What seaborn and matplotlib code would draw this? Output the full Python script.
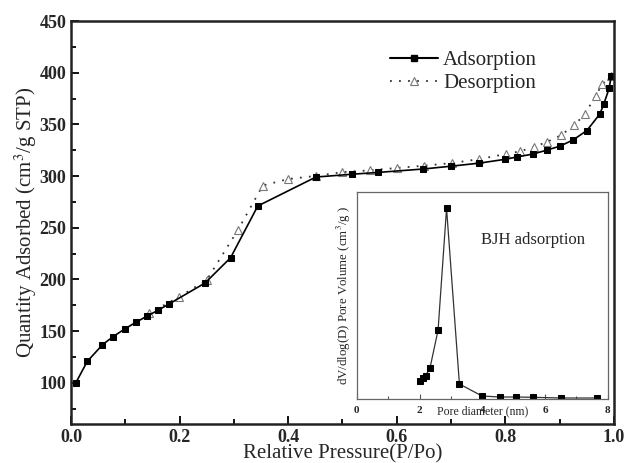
import matplotlib
matplotlib.use("Agg")
import matplotlib.pyplot as plt
import seaborn as sns
import pandas as pd
from matplotlib.ticker import MultipleLocator
from matplotlib.lines import Line2D

# ---- data ----
ads_x = [0.009, 0.030, 0.058, 0.077, 0.099, 0.120, 0.140, 0.160, 0.180, 0.247,
         0.294, 0.344, 0.451, 0.517, 0.566, 0.649, 0.700, 0.751, 0.800, 0.821,
         0.851, 0.876, 0.901, 0.925, 0.950, 0.974, 0.981, 0.991, 0.995]
ads_y = [100, 120.6, 136.7, 144.4, 152, 158.6, 164.4, 170, 176, 196.5,
         221, 271, 299, 301.7, 303.5, 306.8, 309.5, 312.4, 316.2, 318.4,
         321.3, 325, 329, 335, 344, 360, 369.3, 384.7, 397]

des_x = [0.995, 0.978, 0.966, 0.946, 0.927, 0.903, 0.877, 0.852, 0.827, 0.801,
         0.752, 0.702, 0.651, 0.600, 0.551, 0.500, 0.451, 0.399, 0.353, 0.307,
         0.250, 0.198, 0.144]
des_y = [397, 388.6, 377.3, 359.6, 349.3, 339.7, 333, 328, 323.9, 321.3,
         316.4, 312.6, 310, 307.8, 305.5, 303.8, 300.1, 297, 290.7, 247.4,
         199.4, 182.7, 167.2]

bjh_d = [2.01, 2.10, 2.19, 2.33, 2.59, 2.86, 3.27, 3.99, 4.56, 5.06, 5.62, 6.50, 7.66]
bjh_v = [0.183, 0.207, 0.233, 0.307, 0.69, 1.907, 0.15, 0.03, 0.02, 0.02, 0.017, 0.01, 0.01]

main_xticks = [0.0, 0.2, 0.4, 0.6, 0.8, 1.0]
main_yticks = [100, 150, 200, 250, 300, 350, 400, 450]
inset_xticks = [0, 2, 4, 6, 8]

sns.set_theme(style="ticks")
plt.rcParams['font.family'] = ['Liberation Serif', 'DejaVu Serif']
plt.rcParams['mathtext.fontset'] = 'stix'

fig = plt.figure(figsize=(6.26, 4.63), dpi=100)
ax = fig.add_axes([0.1134, 0.0842, 0.9808 - 0.1134, 0.9546 - 0.0842])

ads = pd.DataFrame({"x": ads_x, "y": ads_y})
des = pd.DataFrame({"x": des_x, "y": des_y})

sns.lineplot(data=des, x="x", y="y", ax=ax, sort=False, estimator=None,
             color="#333333", lw=1.3, linestyle=(0, (1, 4)),
             marker="^", markersize=5.5, markerfacecolor="white",
             markeredgecolor="#777777", markeredgewidth=0.8)
sns.lineplot(data=ads, x="x", y="y", ax=ax, sort=False, estimator=None,
             color="black", lw=1.2, marker="s", markersize=3.8,
             markerfacecolor="black", markeredgecolor="black")

ax.set_xlim(0, 1.0)
ax.set_ylim(60, 450)
ax.set_xticks(main_xticks)
ax.set_yticks(main_yticks)
ax.set_xticklabels([f"{v:.1f}" for v in main_xticks])
ax.set_yticklabels([str(v) for v in main_yticks])
ax.xaxis.set_minor_locator(MultipleLocator(0.1))
ax.yaxis.set_minor_locator(MultipleLocator(25))
ax.tick_params(which="both", direction="in", top=False, right=False,
               width=1.3, color="black")
ax.tick_params(which="major", length=6, labelsize=13)
ax.tick_params(which="minor", length=3.5)
for lab in ax.get_xticklabels() + ax.get_yticklabels():
    lab.set_fontweight("bold")
for sp in ax.spines.values():
    sp.set_linewidth(1.8)
    sp.set_color("#222222")
    sp.set_visible(True)

ax.set_xlabel("Relative Pressure(P/Po)", fontsize=15, labelpad=-1)
ax.set_ylabel("Quantity Adsorbed (cm$^3$/g STP)", fontsize=15, labelpad=0)

h_ads = Line2D([], [], color="black", lw=1.5, marker="s", markersize=3.8)
h_des = Line2D([], [], color="#333333", lw=1.3, linestyle=(0, (1, 4)), marker="^",
               markersize=5.5, markerfacecolor="white", markeredgecolor="#777777",
               markeredgewidth=0.8)
ax.legend([h_ads, h_des], ["Adsorption", "Desorption"], loc="upper left",
          bbox_to_anchor=(0.553, 0.973), frameon=False, fontsize=15,
          handlelength=2.3, handletextpad=0.25, labelspacing=0.15, numpoints=1)

# ---- inset ----
ins = fig.add_axes([0.570, 1 - 399 / 463, (608 - 357) / 626, (399 - 192) / 463])
bjh = pd.DataFrame({"d": bjh_d, "v": bjh_v})
sns.lineplot(data=bjh, x="d", y="v", ax=ins, sort=False, estimator=None,
             color="#333333", lw=0.9, marker="s", markersize=3.8,
             markerfacecolor="black", markeredgecolor="black")
ins.set_xlim(0, 8)
ins.set_ylim(0, 2.07)
ins.set_xticks(inset_xticks)
ins.set_xticklabels([str(v) for v in inset_xticks])
ins.xaxis.set_minor_locator(MultipleLocator(1))
ins.set_yticks([])
ins.tick_params(which="both", direction="in", top=False, right=False,
                width=0.8, color="#555555", labelsize=8, pad=5)
ins.tick_params(which="major", length=3.5)
ins.tick_params(which="minor", length=2)
for lab in ins.get_xticklabels():
    lab.set_fontweight("bold")
for sp in ins.spines.values():
    sp.set_linewidth(0.9)
    sp.set_color("#666666")
    sp.set_visible(True)
ins.set_xlabel("Pore diameter (nm)", fontsize=8.5, labelpad=-7)
ins.set_ylabel("dV/dlog(D) Pore Volume (cm$^3$/g )", fontsize=9.3, labelpad=3)
ins.text(0.70, 0.77, "BJH adsorption", transform=ins.transAxes, fontsize=12,
         ha="center", va="center")

fig.savefig("out.png", dpi=100)
